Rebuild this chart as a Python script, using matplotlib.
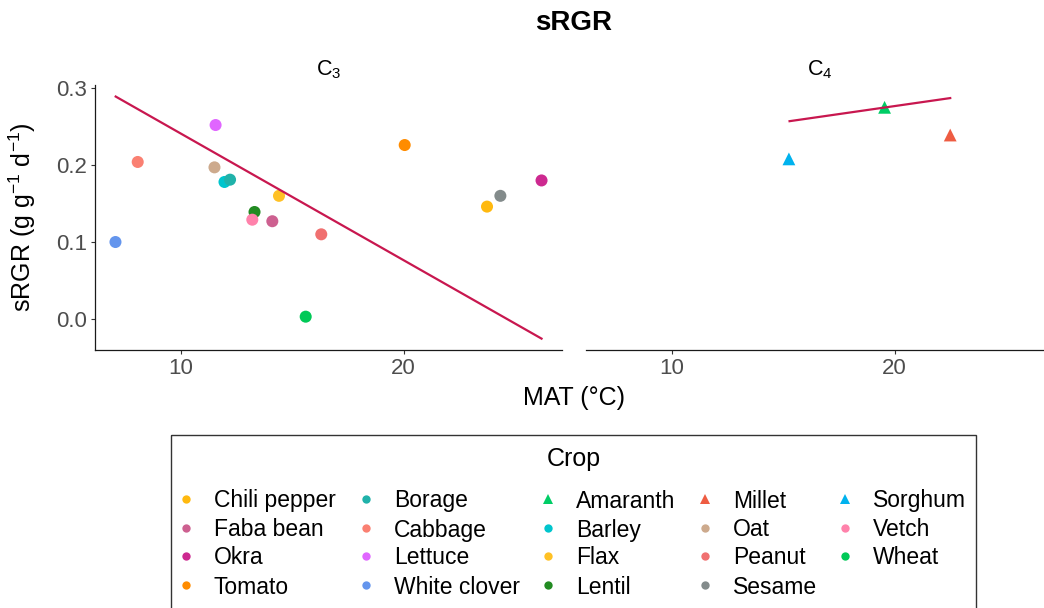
import matplotlib
matplotlib.use("Agg")
import matplotlib.pyplot as plt
from matplotlib.patches import Rectangle

plt.rcParams.update({
    "font.family": "Liberation Sans",
    "mathtext.fontset": "custom",
    "mathtext.rm": "Liberation Sans",
    "mathtext.it": "Liberation Sans:italic",
    "mathtext.bf": "Liberation Sans:bold",
})

# ── Data ──────────────────────────────────────────────────────────────────────
c3_crop = ["White clover", "Cabbage", "Lettuce", "Oat", "Barley", "Borage",
           "Flax", "Lentil", "Vetch", "Faba bean", "Peanut", "Wheat",
           "Tomato", "Chili pepper", "Sesame", "Okra"]
c3_mat = [7.05, 8.05, 11.55, 11.5, 11.95, 12.2, 14.4, 13.3, 13.2, 14.1,
          16.3, 15.6, 20.05, 23.75, 24.35, 26.2]
c3_srgr = [0.100, 0.204, 0.252, 0.197, 0.178, 0.181, 0.160, 0.139, 0.129,
           0.127, 0.110, 0.003, 0.226, 0.146, 0.160, 0.180]

c4_crop = ["Sorghum", "Amaranth", "Millet"]
c4_mat = [15.25, 19.55, 22.5]
c4_srgr = [0.208, 0.275, 0.239]

# fitted trend lines (end points)
fit_c3_mat = [7.06, 26.2]
fit_c3_srgr = [0.289, -0.0255]
fit_c4_mat = [15.28, 22.5]
fit_c4_srgr = [0.257, 0.287]

crop_colors = {
    "Chili pepper": "#FFB90F", "Faba bean": "#CD6090", "Okra": "#CD2990",
    "Tomato": "#FF8C00", "Borage": "#20B2AA", "Cabbage": "#FA8072",
    "Lettuce": "#E066FF", "White clover": "#6495ED", "Amaranth": "#00CD66",
    "Barley": "#00C5CD", "Flax": "#FFC125", "Lentil": "#228B22",
    "Millet": "#EE5C42", "Oat": "#CDAA8D", "Peanut": "#F07070",
    "Sesame": "#838B8B", "Sorghum": "#00B2EE", "Vetch": "#FF82AB",
    "Wheat": "#00C957",
}
c4_group = ["Amaranth", "Millet", "Sorghum"]

legend_cols = [
    ["Chili pepper", "Faba bean", "Okra", "Tomato"],
    ["Borage", "Cabbage", "Lettuce", "White clover"],
    ["Amaranth", "Barley", "Flax", "Lentil"],
    ["Millet", "Oat", "Peanut", "Sesame"],
    ["Sorghum", "Vetch", "Wheat"],
]

LINE_COLOR = "#C8174F"
TICK_GREY = "#4D4D4D"
XLIM = (6.13, 27.12)
YLIM = (-0.0403, 0.304)

# ── Figure ────────────────────────────────────────────────────────────────────
W, H = 1044, 608
fig = plt.figure(figsize=(W / 100, H / 100), dpi=100)


def px_box(x0, y0, x1, y1):
    return [x0 / W, 1 - y1 / H, (x1 - x0) / W, (y1 - y0) / H]


ax3 = fig.add_axes(px_box(95, 85, 562, 350))
ax4 = fig.add_axes(px_box(586, 85, 1053, 350))

for ax, title in [(ax3, "C$_3$"), (ax4, "C$_4$")]:
    ax.set_xlim(*XLIM)
    ax.set_ylim(*YLIM)
    ax.set_xticks([10, 20])
    ax.spines["top"].set_visible(False)
    ax.spines["right"].set_visible(False)
    for s in ("left", "bottom"):
        ax.spines[s].set_linewidth(0.9)
        ax.spines[s].set_color("#1a1a1a")
    ax.tick_params(labelsize=16, labelcolor=TICK_GREY, color="#333333",
                   length=3, width=0.8, pad=3)
    ax.set_title(title, fontsize=15.5, pad=7)

ax3.set_yticks([0.0, 0.1, 0.2, 0.3])
ax3.set_yticklabels(["0.0", "0.1", "0.2", "0.3"])
ax4.spines["left"].set_visible(False)
ax4.set_yticks([])

ax3.scatter(c3_mat, c3_srgr, c=[crop_colors[c] for c in c3_crop],
            s=75, marker="o", linewidths=0, zorder=2)
ax3.plot(fit_c3_mat, fit_c3_srgr, color=LINE_COLOR, lw=1.6, zorder=3)

ax4.scatter(c4_mat, c4_srgr, c=[crop_colors[c] for c in c4_crop],
            s=85, marker="^", linewidths=0, zorder=2)
ax4.plot(fit_c4_mat, fit_c4_srgr, color=LINE_COLOR, lw=1.6, zorder=3)

fig.text(574 / W, 1 - 23 / H, "sRGR", fontsize=20, fontweight="bold",
         ha="center", va="center")
fig.text(574 / W, 1 - 398 / H, "MAT (°C)", fontsize=18,
         ha="center", va="center")
fig.text(22 / W, 1 - 217 / H, "sRGR (g g$^{-1}$ d$^{-1}$)", fontsize=18,
         rotation=90, ha="center", va="center")

# ── Legend ────────────────────────────────────────────────────────────────────
lg = fig.add_axes([0, 0, 1, 1], zorder=-1)
lg.set_xlim(0, W)
lg.set_ylim(H, 0)
lg.axis("off")
lg.add_patch(Rectangle((171, 435), 805, 220, fill=False,
                       edgecolor="#333333", lw=1.0))
lg.text(574, 459, "Crop", fontsize=18, ha="center", va="center")

col_x = [186, 366, 548, 705, 845]
row_y = [499, 528, 556, 585]
for cx, names in zip(col_x, legend_cols):
    for ry, name in zip(row_y, names):
        mk = "^" if name in c4_group else "o"
        lg.plot(cx, ry, marker=mk, ms=7 if mk == "^" else 6,
                color=crop_colors[name], mew=0, ls="none")
        lg.text(cx + 28, ry + 8.5, name, fontsize=16.5,
                ha="left", va="baseline")

fig.savefig("out.png", dpi=100)
